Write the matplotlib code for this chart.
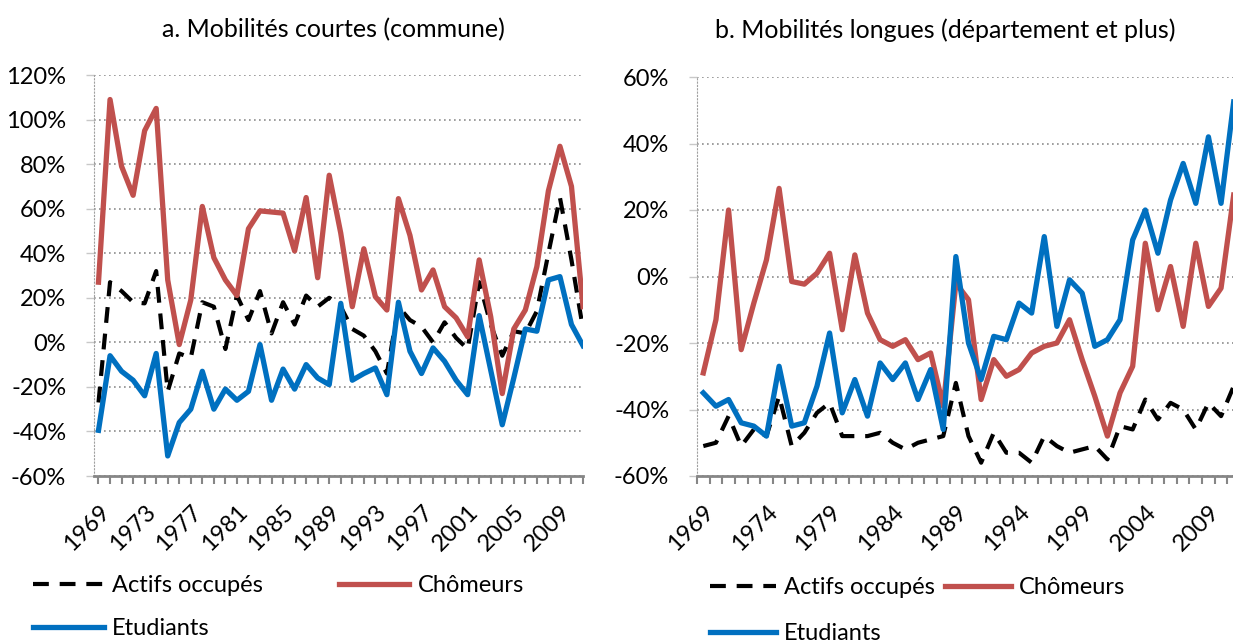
import matplotlib.pyplot as plt
from matplotlib.ticker import FuncFormatter, FixedLocator

plt.rcParams['font.family'] = ['Lato', 'DejaVu Sans']

years = list(range(1969, 2012))

# a. Mobilités courtes (commune), en %
courtes_actifs = [-27, 27, 23, 18, 17.5, 32, -22, -5, -7, 18,
                  16, -3, 21, 10, 23, 4, 18, 8, 21, 16,
                  20, 16, 6, 3, -4, -14, 16, 10, 7, 0,
                  9, 2, -3, 27, 8, -6, 5, 4, 14, 40,
                  65, 37, 6]
courtes_chomeurs = [27, 109, 79, 66, 95, 105, 28, -1, 19, 61,
                    38, 28, 21, 51, 59, 58.5, 58, 41, 65, 29,
                    75, 49, 16, 42, 20.5, 14.5, 64.5, 48, 23.5, 32.5,
                    16, 11, 2.5, 37, 11.5, -23, 6, 14.5, 34, 68,
                    88, 70, 16]
courtes_etudiants = [-39.5, -6, -13, -17, -24, -5, -51, -36, -30, -13,
                     -30, -21, -26, -22, -1, -26, -12, -21, -10, -16,
                     -19, 17.5, -17, -14, -11.5, -23.5, 18, -4, -14, -2.5,
                     -8.5, -17, -23.5, 12, -12.5, -37, -16, 6, 5, 28,
                     29.5, 8, -1.5]

# b. Mobilités longues (département et plus), en %
longues_actifs = [-51, -50, -42, -51, -46, -48, -36, -51, -47, -41,
                  -38, -48, -48, -48, -47, -50, -52, -50, -49, -48,
                  -32, -48, -56, -47, -53, -53, -56, -48, -51, -53,
                  -52, -51, -55, -45, -46, -37, -43, -38, -40, -46,
                  -38, -42, -33]
longues_chomeurs = [-29, -13, 20, -22, -8, 5, 26.5, -1.5, -2.3, 1,
                    7, -16, 6.5, -11, -19, -21, -19, -25, -23, -39,
                    -2, -7, -37, -25, -30, -28, -23, -21, -20, -13,
                    -25, -36, -48, -35, -27, 10, -10, 3, -15, 10,
                    -9, -3.5, 24.5]
longues_etudiants = [-35, -39, -37, -44, -45, -48, -27, -45, -44, -33,
                     -17, -41, -31, -42, -26, -31, -26, -37, -28, -46,
                     6, -20, -31, -18, -19, -8, -11, 12, -15, -1,
                     -5, -21, -19, -13, 11, 20, 7, 23, 34, 22,
                     42, 22, 52.5]

labels = ['Actifs occupés', 'Chômeurs', 'Etudiants']
red = '#C0504D'
blue = '#0070C0'
fs = 17

fig = plt.figure(figsize=(12.33, 6.42), dpi=100)
ax1 = fig.add_axes([94 / 1233, 166 / 642, 489 / 1233, 401 / 642])
ax2 = fig.add_axes([697 / 1233, 166 / 642, 543 / 1233, 399 / 642])

x = list(range(len(years)))


def style(ax, ymin, ymax):
    ax.set_ylim(ymin, ymax)
    ax.set_yticks(range(ymin, ymax + 1, 20))
    ax.yaxis.set_major_formatter(FuncFormatter(lambda v, p: f'{v:.0f}%'))
    ax.grid(axis='y', color='#8c8c8c', linestyle=(0, (1, 2)), linewidth=1.2)
    ax.set_axisbelow(True)
    for s in ['top', 'right']:
        ax.spines[s].set_visible(False)
    ax.spines['left'].set_color('#a0a0a0')
    ax.spines['left'].set_linestyle((0, (1, 2)))
    ax.spines['bottom'].set_color('#868686')
    ax.spines['bottom'].set_linewidth(2)
    ax.tick_params(axis='y', length=6, width=1, color='#c8c8c8', pad=14, labelsize=fs)
    ax.tick_params(axis='x', which='both', length=6, width=1.5, color='#868686', labelsize=fs)


def draw(ax, actifs, chomeurs, etudiants):
    l1, = ax.plot(x, actifs, color='black', linewidth=3, dashes=(3.8, 2.6), label=labels[0])
    l2, = ax.plot(x, chomeurs, color=red, linewidth=3.8, solid_joinstyle='round', label=labels[1])
    l3, = ax.plot(x, etudiants, color=blue, linewidth=3.8, solid_joinstyle='round', label=labels[2])
    return [l1, l2, l3]


h1 = draw(ax1, courtes_actifs, courtes_chomeurs, courtes_etudiants)
h2 = draw(ax2, longues_actifs, longues_chomeurs, longues_etudiants)

style(ax1, -60, 120)
style(ax2, -60, 60)

# panel a: points on tick marks
ax1.set_xlim(-0.39, 42)
ax1.xaxis.set_minor_locator(FixedLocator(x))
ax1.set_xticks(x[::4])
ax1.set_xticklabels([str(y) for y in years[::4]], rotation=45, ha='right', va='top', rotation_mode='anchor')
ax1.tick_params(axis='x', which='major', pad=12)

# panel b: points between tick marks
ax2.set_xlim(-0.5, 42.5)
ax2.xaxis.set_minor_locator(FixedLocator([i - 0.5 for i in range(len(years) + 1)]))
ax2.set_xticks(x[::5])
ax2.set_xticklabels([str(y) for y in years[::5]], rotation=45, ha='right', va='top', rotation_mode='anchor')
ax2.tick_params(axis='x', which='major', length=0, pad=18)

fig.text(333 / 1233, 1 - 30 / 642, 'a. Mobilités courtes (commune)', ha='center', va='center', fontsize=18)
fig.text(945 / 1233, 1 - 30 / 642, 'b. Mobilités longues (département et plus)', ha='center', va='center', fontsize=18)

# row order: Actifs, Chômeurs / Etudiants
order = [0, 2, 1]
ax1.legend([h1[i] for i in order], [labels[i] for i in order],
           loc='upper left', bbox_to_anchor=(33 / 1233, 1 - 575 / 642), bbox_transform=fig.transFigure,
           ncol=2, frameon=False, fontsize=fs, handlelength=3.0, handletextpad=0.35,
           columnspacing=3.2, labelspacing=0.95, borderaxespad=0, borderpad=0)
ax2.legend([h2[i] for i in order], [labels[i] for i in order],
           loc='upper left', bbox_to_anchor=(710 / 1233, 1 - 577 / 642), bbox_transform=fig.transFigure,
           ncol=2, frameon=False, fontsize=fs, handlelength=2.8, handletextpad=0.35,
           columnspacing=0.4, labelspacing=1.05, borderaxespad=0, borderpad=0)

plt.savefig('out.png', dpi=100)
